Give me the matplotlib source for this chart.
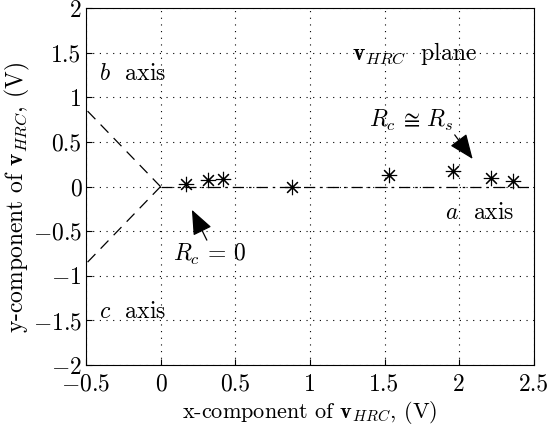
import numpy as np
import matplotlib
matplotlib.use('Agg')
import matplotlib.pyplot as plt

plt.rcParams['font.family'] = 'serif'
plt.rcParams['font.serif'] = ['cmr10', 'DejaVu Serif']
plt.rcParams['mathtext.fontset'] = 'cm'
plt.rcParams['axes.formatter.use_mathtext'] = True
plt.rcParams['font.size'] = 14

# measured points of v_HRC
px = [0.17, 0.32, 0.42, 0.88, 1.53, 1.96, 2.21, 2.36]
py = [0.03, 0.07, 0.09, 0.00, 0.13, 0.17, 0.10, 0.06]

# reference axes (a, b, c) end points
a_axis = ([0, 2.5], [0, 0])
b_axis = ([0, -0.5], [0, 0.866])
c_axis = ([0, -0.5], [0, -0.866])

xticks = [-0.5, 0, 0.5, 1, 1.5, 2, 2.5]
yticks = [-2, -1.5, -1, -0.5, 0, 0.5, 1, 1.5, 2]

fig = plt.figure(figsize=(5.47, 4.30), dpi=100)
ax = fig.add_axes([0.157, 0.151, 0.819, 0.830])

ax.plot(*a_axis, color='k', linestyle=(0, (9, 4, 2, 4)), linewidth=0.9)
ax.plot(*b_axis, color='k', linestyle=(0, (9, 6)), linewidth=0.9)
ax.plot(*c_axis, color='k', linestyle=(0, (9, 6)), linewidth=0.9)
ax.plot(px, py, linestyle='none', marker=(8, 2, 0), markersize=11,
        color='k', markeredgewidth=0.8)

ax.set_xlim(-0.5, 2.5)
ax.set_ylim(-2, 2)
ax.set_xticks(xticks)
ax.set_yticks(yticks)
ax.set_xticklabels(['$-0.5$', '0', '0.5', '1', '1.5', '2', '2.5'])
ax.set_yticklabels(['$-2$', '$-1.5$', '$-1$', '$-0.5$', '0', '0.5', '1', '1.5', '2'])
ax.tick_params(direction='in', length=4, width=0.8, labelsize=17)
ax.tick_params(axis='x', pad=6)
ax.tick_params(axis='y', pad=3)
ax.grid(True, color='k', linestyle=(0, (1, 5)), linewidth=0.8)

ax.set_xlabel(r'x-component of $\mathbf{v}_{HRC}$, (V)', fontsize=16, va='center')
ax.set_ylabel(r'y-component of $\mathbf{v}_{HRC}$, (V)', fontsize=17, va='center')
ax.xaxis.set_label_coords(0.5, -0.134)
ax.yaxis.set_label_coords(-0.153, 0.47)

fs = 17
ax.text(1.70, 1.49, r'$\mathbf{v}_{HRC}$  plane', ha='center', va='center', fontsize=fs)
ax.text(-0.19, 1.26, r'$b$  axis', ha='center', va='center', fontsize=fs)
ax.text(-0.19, -1.40, r'$c$  axis', ha='center', va='center', fontsize=fs)
ax.text(2.14, -0.29, r'$a$  axis', ha='center', va='center', fontsize=fs)
ax.text(1.68, 0.74, r'$R_c \,\cong\, R_s$', ha='center', va='center', fontsize=fs)
ax.text(0.33, -0.76, r'$R_c \,=\, 0$', ha='center', va='center', fontsize=fs)

arrow = dict(arrowstyle='-|>,head_length=1.1,head_width=0.45', color='k', lw=0.9,
             shrinkA=0, shrinkB=0)
ax.annotate('', xy=(2.09, 0.31), xytext=(1.97, 0.58), arrowprops=arrow)
ax.annotate('', xy=(0.21, -0.26), xytext=(0.31, -0.6), arrowprops=arrow)

fig.savefig('out.png', dpi=100)
